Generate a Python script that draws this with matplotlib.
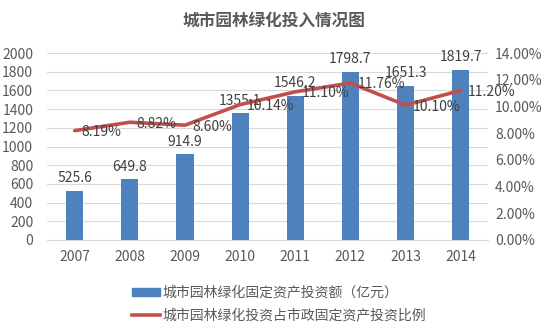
import numpy as np
import matplotlib
matplotlib.use("Agg")
from matplotlib import pyplot as plt
from matplotlib.ticker import FuncFormatter

plt.rcParams['font.family'] = ['Noto Sans CJK SC', 'DejaVu Sans']

years = ["2007", "2008", "2009", "2010", "2011", "2012", "2013", "2014"]
invest = [525.6, 649.8, 914.9, 1355.1, 1546.2, 1798.7, 1651.3, 1819.7]
ratio = [8.19, 8.82, 8.60, 10.14, 11.10, 11.76, 10.10, 11.20]

bar_col = "#4F81BD"
line_col = "#C0504D"
txt_col = "#595959"
lbl_col = "#404040"

fig = plt.figure(figsize=(5.48, 3.30), dpi=100)
ax = fig.add_axes([0.086, 0.273, 0.805, 0.566])
ax2 = ax.twinx()

x = np.arange(len(years))
ax.bar(x, invest, width=0.31, color=bar_col, zorder=2)
ax.set_ylim(0, 2000)
ax.set_yticks(np.arange(0, 2001, 200))
ax.set_xlim(-0.5, len(years) - 0.5)
ax.set_xticks(x)
ax.set_xticklabels(years)
ax.yaxis.grid(True, color="#D9D9D9", linewidth=0.8, zorder=0)
ax.set_axisbelow(True)
for v, xi in zip(invest, x):
    ax.annotate(f"{v:.1f}", (xi, v), xytext=(0, 4), textcoords="offset points",
                ha="center", va="bottom", fontsize=10, color=lbl_col)

ax2.plot(x, ratio, color=line_col, linewidth=2.6, solid_capstyle="round", zorder=3)
ax2.set_ylim(0, 14)
ax2.set_yticks(np.arange(0, 14.1, 2))
ax2.yaxis.set_major_formatter(FuncFormatter(lambda v, p: f"{v:.2f}%"))
for v, xi in zip(ratio, x):
    ax2.annotate(f"{v:.2f}%", (xi, v), xytext=(5, -1), textcoords="offset points",
                 ha="left", va="center", fontsize=10, color=lbl_col)

for a in (ax, ax2):
    for s in a.spines.values():
        s.set_visible(False)
    a.tick_params(length=0, labelsize=10, colors=txt_col)
ax.tick_params(axis="y", pad=10)
ax.tick_params(axis="x", pad=7)
ax2.tick_params(axis="y", pad=5)
ax.spines["bottom"].set_visible(True)
ax.spines["bottom"].set_color("#D9D9D9")

fig.suptitle("城市园林绿化投入情况图", x=0.5, y=0.965, fontsize=12, fontweight="bold", color=txt_col)

handles = [plt.Rectangle((0, 0), 1, 1, color=bar_col),
           plt.Line2D([], [], color=line_col, linewidth=2.6)]
labels = ["城市园林绿化固定资产投资额（亿元）", "城市园林绿化投资占市政固定资产投资比例"]
fig.legend(handles, labels, loc="upper left", bbox_to_anchor=(0.228, 0.155),
           frameon=False, fontsize=10, labelcolor=txt_col, handlelength=2.0,
           handleheight=0.45, handletextpad=0.2, labelspacing=0.6, borderpad=0)

fig.savefig("out.png", dpi=100)
